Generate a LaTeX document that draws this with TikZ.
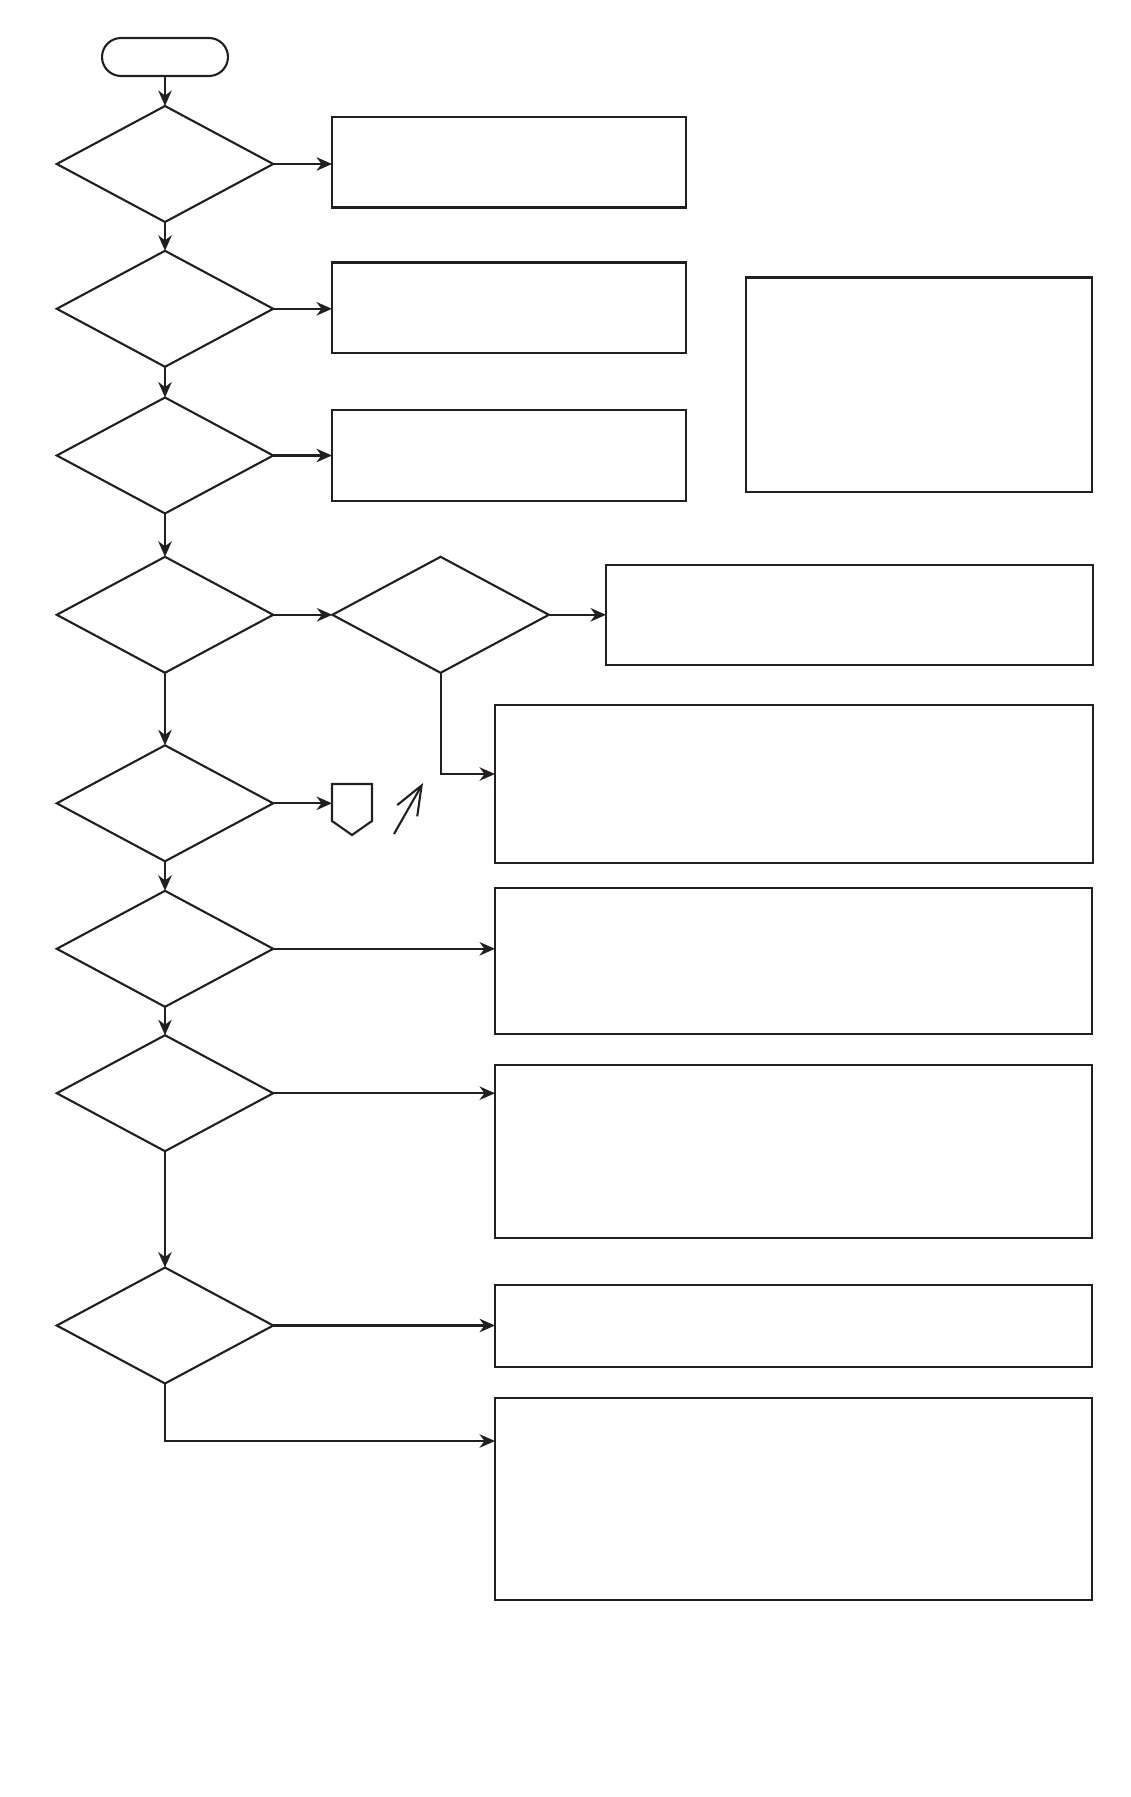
\documentclass[tikz,border=0pt]{standalone}
\usepackage{tikz}
\usetikzlibrary{arrows.meta,positioning,calc,fit,shapes.geometric,shapes.misc}
\definecolor{InkColor}{RGB}{35,31,32}

\begin{document}
\begin{tikzpicture}[x=0.02cm, y=-0.02cm, font=\scriptsize,
    terminal/.style={rounded rectangle, draw=InkColor, line width=1.2pt, minimum width=2.52cm, minimum height=0.76cm, inner sep=0pt, outer sep=0pt},
    decision/.style={diamond, draw=InkColor, line width=1.2pt, minimum width=4.33cm, minimum height=2.32cm, inner sep=0pt, outer sep=0pt},
    procbox/.style={rectangle, draw=InkColor, line width=1.4pt, inner sep=0pt, outer sep=0pt},
    flow/.style={draw=InkColor, line width=1.2pt, -{Stealth[length=3.1mm, width=2.7mm, inset=1mm]}}]
      \useasboundingbox (0,0) rectangle (1131,1797);

      \node[terminal] (start) at (165,57) {};
      \node[decision] (d1) at (165,164) {};
      \node[decision] (d2) at (165,308.8) {};
      \node[decision] (d3) at (165,455.5) {};
      \node[decision] (d4) at (165,614.8) {};
      \node[decision] (d4b) at (440.6,614.8) {};
      \node[decision] (d5) at (165,803.3) {};
      \node[decision] (d6) at (165,948.8) {};
      \node[decision] (d7) at (165,1093.2) {};
      \node[decision] (d8) at (165,1325.5) {};

      \node[procbox, fit={(332,117) (686,207.5)}] (b1) {};
      \node[procbox, fit={(332,262.5) (686,353)}] (b2) {};
      \node[procbox, fit={(332,410) (686,501)}] (b3) {};
      \node[procbox, fit={(746,277.5) (1092,492)}] (note) {};
      \node[procbox, fit={(606,565) (1093,665)}] (b4) {};
      \node[procbox, fit={(495,705) (1093,863)}] (b5) {};
      \node[procbox, fit={(495,888) (1092,1034)}] (b6) {};
      \node[procbox, fit={(495,1065) (1092,1238)}] (b7) {};
      \node[procbox, fit={(495,1285) (1092,1367)}] (b8) {};
      \node[procbox, fit={(495,1398) (1092,1600)}] (b9) {};

      \draw[InkColor, line width=1.2pt] (332,784) -- (372,784) -- (372,821) -- (352,835) -- (332,821) -- cycle;
      \coordinate (offin) at (332,803.3);
      \coordinate (b5in) at (495,774);
      \coordinate (b9in) at (495,1441);

      \draw[flow] (start.south) -- (d1.north);
      \foreach \a/\b in {d1/d2,d2/d3,d3/d4,d4/d5,d5/d6,d6/d7,d7/d8}
        \draw[flow] (\a.south) -- (\b.north);
      \foreach \a/\b in {d1/b1,d2/b2,d3/b3,d6/b6,d7/b7,d8/b8}
        \draw[flow] (\a.east) -- (\a.east -| \b.west);
      \draw[flow] (d4.east) -- (d4b.west);
      \draw[flow] (d4b.east) -- (d4b.east -| b4.west);
      \draw[flow] (d5.east) -- (offin);
      \draw[flow] (d4b.south) |- (b5in);
      \draw[flow] (d8.south) |- (b9in);

      \draw[InkColor, line width=1.2pt, -{Straight Barb[length=5.8mm, width=4.6mm]}] (394,834) -- (423,783);
    \end{tikzpicture}
\end{document}
